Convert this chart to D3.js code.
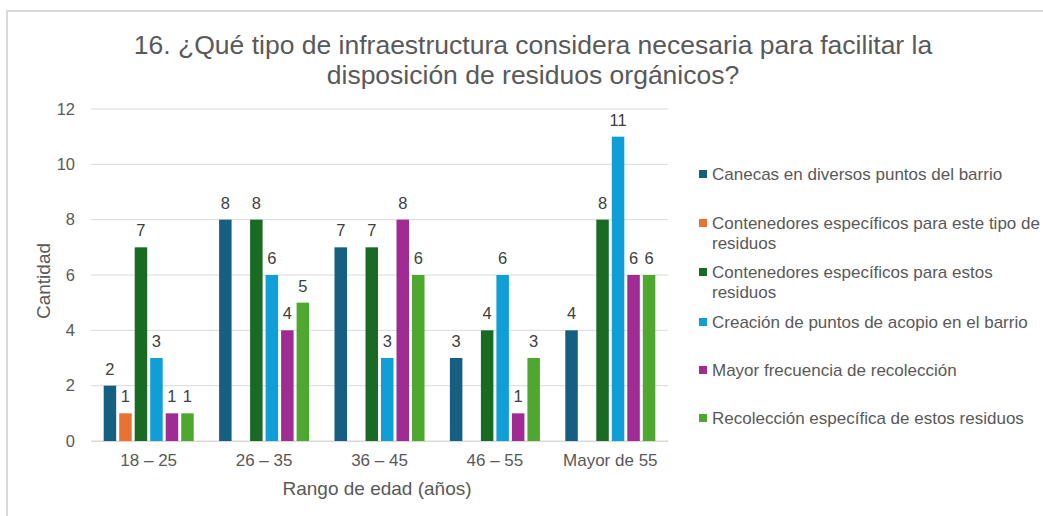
<!DOCTYPE html>
<html>
<head>
<meta charset="utf-8">
<script src="https://cdn.jsdelivr.net/npm/d3@7"></script>
<style>
  body { margin: 0; background: #fff; }
  text { font-family: "Liberation Sans", Arial, sans-serif; }
</style>
</head>
<body>
<div id="chart"></div>
<script>
// --- DONNÉES ---
const categorias = ["18 – 25", "26 – 35", "36 – 45", "46 – 55", "Mayor de 55"];
const series = [
  "Canecas en diversos puntos del barrio",
  "Contenedores específicos para este tipo de residuos",
  "Contenedores específicos para estos residuos",
  "Creación de puntos de acopio en el barrio",
  "Mayor frecuencia de recolección",
  "Recolección específica de estos residuos"
];
const canecas      = [2, 8, 7, 3, 4];
const contEsteTipo = [1, null, null, null, null];
const contEstos    = [7, 8, 7, 4, 8];
const acopio       = [3, 6, 3, 6, 11];
const frecuencia   = [1, 4, 8, 1, 6];
const recoleccion  = [1, 5, 6, 3, 6];
const valores = [canecas, contEsteTipo, contEstos, acopio, frecuencia, recoleccion];
const yTicks = [0, 2, 4, 6, 8, 10, 12];
const colores = ["#156082", "#E97132", "#196B24", "#0F9ED5", "#A02B93", "#4EA72E"];

// --- CONFIGURATION ---
const largeur = 1043, hauteur = 516;
const m = { left: 91, right: 668, top: 109, bottom: 441 };

const svg = d3.select("#chart").append("svg")
  .attr("width", largeur).attr("height", hauteur);

// cadre
svg.append("path")
  .attr("d", `M7,${hauteur + 5} L7,11 L${largeur + 5},11`)
  .attr("fill", "none").attr("stroke", "#d9d9d9").attr("stroke-width", 2);

// titre
const titre = svg.append("text").attr("text-anchor", "middle")
  .attr("fill", "#595959").style("font-size", "26.5px");
titre.append("tspan").attr("x", 533).attr("y", 54)
  .text("16. ¿Qué tipo de infraestructura considera necesaria para facilitar la");
titre.append("tspan").attr("x", 533).attr("y", 84)
  .text("disposición de residuos orgánicos?");

// échelles
const x0 = d3.scaleBand().domain(categorias).range([m.left, m.right]).paddingInner(0.22).paddingOuter(0.11);
const x1 = d3.scaleBand().domain(d3.range(series.length)).range([0, x0.bandwidth()]).paddingInner(0.194);
const y = d3.scaleLinear().domain([0, 12]).range([m.bottom, m.top]);

// grille
svg.append("g").selectAll("line").data(yTicks).join("line")
  .attr("x1", m.left).attr("x2", m.right)
  .attr("y1", d => y(d)).attr("y2", d => y(d))
  .attr("stroke", "#d9d9d9").attr("stroke-width", 1);

// axe Y
const axeY = svg.append("g").attr("transform", `translate(${m.left},0)`)
  .call(d3.axisLeft(y).tickValues(yTicks).tickSize(0).tickPadding(16));
axeY.select(".domain").remove();
axeY.selectAll("text").attr("fill", "#595959").style("font-size", "16.5px")
  .style("font-family", "Liberation Sans, Arial, sans-serif");

// axe X
const axeX = svg.append("g").attr("transform", `translate(0,${m.bottom})`)
  .call(d3.axisBottom(x0).tickSize(0).tickPadding(13));
axeX.select(".domain").attr("stroke", "#d9d9d9");
axeX.selectAll("text").attr("fill", "#595959").style("font-size", "17px")
  .style("font-family", "Liberation Sans, Arial, sans-serif");

// titres des axes
svg.append("text").attr("x", 377).attr("y", 495).attr("text-anchor", "middle")
  .attr("fill", "#595959").style("font-size", "19px").text("Rango de edad (años)");
svg.append("text").attr("transform", "translate(50,281) rotate(-90)").attr("text-anchor", "middle")
  .attr("fill", "#595959").style("font-size", "19px").text("Cantidad");

// barres
const points = [];
valores.forEach((serie, s) => serie.forEach((v, c) => {
  if (v != null) points.push({ s, c, v });
}));

svg.append("g").selectAll("rect").data(points).join("rect")
  .attr("x", d => x0(categorias[d.c]) + x1(d.s))
  .attr("y", d => y(d.v))
  .attr("width", x1.bandwidth())
  .attr("height", d => y(0) - y(d.v))
  .attr("fill", d => colores[d.s]);

svg.append("g").selectAll("text").data(points).join("text")
  .attr("x", d => x0(categorias[d.c]) + x1(d.s) + x1.bandwidth() / 2)
  .attr("y", d => y(d.v) - 11)
  .attr("text-anchor", "middle")
  .attr("fill", "#404040").style("font-size", "16.5px")
  .text(d => d.v);

// légende
const legende = [
  { s: 0, y: 174, lignes: ["Canecas en diversos puntos del barrio"] },
  { s: 1, y: 223, lignes: ["Contenedores específicos para este tipo de", "residuos"] },
  { s: 2, y: 272, lignes: ["Contenedores específicos para estos", "residuos"] },
  { s: 3, y: 322, lignes: ["Creación de puntos de acopio en el barrio"] },
  { s: 4, y: 370, lignes: ["Mayor frecuencia de recolección"] },
  { s: 5, y: 418, lignes: ["Recolección específica de estos residuos"] }
];
const leg = svg.append("g").selectAll("g").data(legende).join("g");
leg.append("rect").attr("x", 699).attr("y", d => d.y - 4).attr("width", 8).attr("height", 8)
  .attr("fill", d => colores[d.s]);
leg.append("text").attr("fill", "#595959").style("font-size", "17px")
  .selectAll("tspan").data(d => d.lignes.map((t, i) => ({ t, y: d.y + 6 + i * 20 })))
  .join("tspan").attr("x", 712).attr("y", d => d.y).text(d => d.t);
</script>
</body>
</html>
